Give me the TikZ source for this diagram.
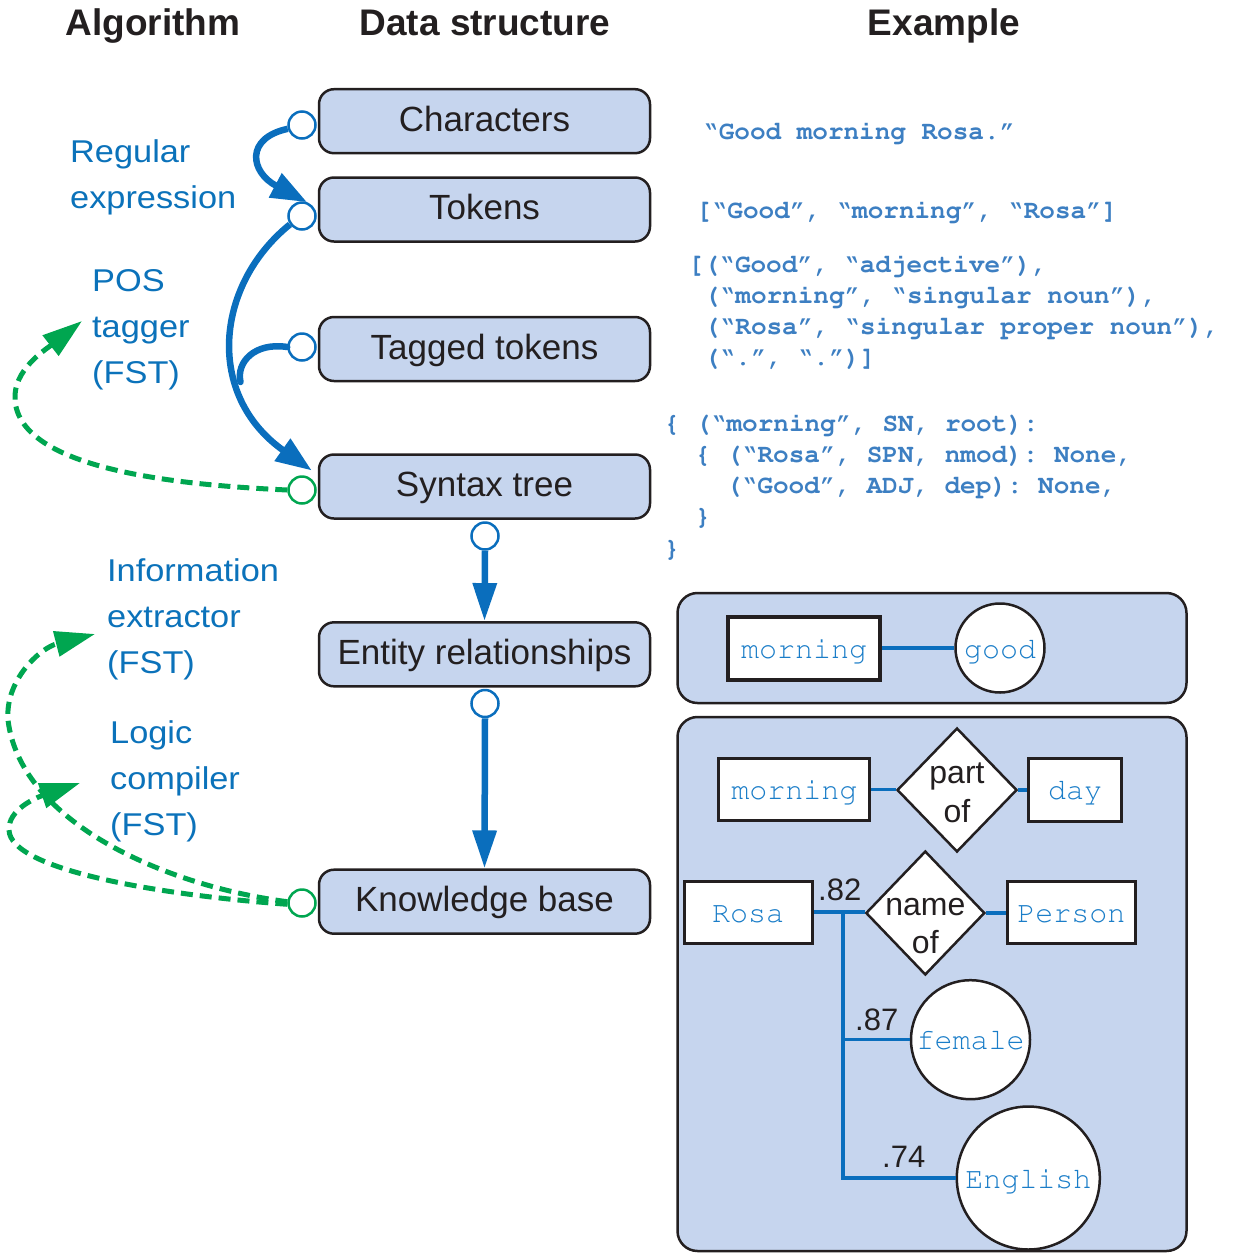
\documentclass[tikz,border=0pt]{standalone}
\usepackage[T1,TU]{fontenc}
\usepackage{fontspec}
\setmainfont{Liberation Sans}
\newfontfamily\lblfont[FakeStretch=1.09]{Liberation Sans}
\newcommand\courfont{\fontencoding{T1}\fontfamily{pcr}\selectfont\frenchspacing}
\newcommand\qo{\textquotedblleft}
\newcommand\qc{\textquotedblright}
\usetikzlibrary{arrows.meta,shapes.geometric}
\definecolor{boxfill}{HTML}{C6D5EE}
\definecolor{darkline}{HTML}{231F20}
\definecolor{flowblue}{HTML}{0A6EBD}
\definecolor{flowgreen}{HTML}{00A650}
\definecolor{lblblue}{HTML}{0B72BA}
\definecolor{codeblue}{HTML}{3D7FC2}
\definecolor{monoblue}{HTML}{1A7DC8}
\begin{document}
\begin{tikzpicture}[x=1pt,y=-1pt,
  dsbox/.style={draw=darkline, line width=2.5pt, fill=boxfill, rounded corners=15pt,
    minimum width=331pt, minimum height=64pt, inner sep=0pt,
    font=\fontsize{35}{42}\selectfont, text=darkline, text height=25pt, text depth=5pt},
  port/.style={circle, draw=flowblue, fill=white, line width=2.5pt, minimum size=27pt, inner sep=0pt},
  gport/.style={port, draw=flowgreen},
  header/.style={font=\fontsize{37}{44}\selectfont\bfseries, text=darkline, anchor=base, inner sep=0pt},
  lbl/.style={font=\lblfont\fontsize{31.5}{40}\selectfont, text=lblblue, anchor=base west, inner sep=0pt},
  code/.style={font=\courfont\bfseries\fontsize{26}{31}\selectfont, text=codeblue, anchor=base west, inner sep=0pt},
  flow/.style={draw=flowblue, line width=6.5pt, -{Triangle[length=36pt,width=26pt]}},
  vflow/.style={draw=flowblue, line width=6.5pt, -{Triangle[length=38pt,width=23pt]}},
  gflow/.style={draw=flowgreen, line width=5pt, dash pattern=on 12pt off 7pt, -{Triangle[length=40pt,width=25pt]}},
  panel/.style={draw=darkline, line width=2.5pt, fill=boxfill, rounded corners=20pt, inner sep=0pt},
  ent/.style={draw=darkline, line width=3pt, fill=white, inner sep=0pt,
    font=\courfont\fontsize{30}{36}\selectfont, text=monoblue, text height=20pt, text depth=0pt},
  entc/.style={ent, circle, line width=2.5pt},
  rel/.style={diamond, draw=darkline, line width=2.5pt, fill=white, inner sep=0pt},
  reltext/.style={font=\fontsize{32}{38}\selectfont, text=darkline, anchor=base, inner sep=0pt},
  wtext/.style={font=\fontsize{31}{38}\selectfont, text=darkline, anchor=base west, inner sep=0pt},
  link/.style={draw=flowblue, line width=3.5pt}
]
\useasboundingbox (0,0) rectangle (1236,1254);

% headers
\node[header] (hAlg) at (153,35) {Algorithm};
\node[header] (hDS) at (485,35) {Data structure};
\node[header] (hEx) at (944,35) {Example};

% data structure boxes
\node[dsbox] (nChar) at (484.5,121.2) {Characters};
\node[dsbox] (nTok) at (484.5,209.5) {Tokens};
\node[dsbox] (nTag) at (484.5,349) {Tagged tokens};
\node[dsbox] (nSyn) at (484.5,486.5) {Syntax tree};
\node[dsbox] (nEnt) at (484.5,654.3) {Entity relationships};
\node[dsbox] (nKB) at (484.5,901.7) {Knowledge base};

% ports
\node[port] (cChar) at (302,125) {};
\node[port] (cTok) at (302,216) {};
\node[port] (cTag) at (302,347) {};
\node[gport] (cSyn) at (302,490) {};
\node[gport] (cKB) at (302,903) {};
\node[port] (cSynB) at (485,536) {};
\node[port] (cEntB) at (485,703.5) {};

% algorithm labels
\node[lbl] (lRE1) at (70,162) {Regular};
\node[lbl] (lRE2) at (70,208) {expression};
\node[lbl] (lPOS1) at (92,291) {POS};
\node[lbl] (lPOS2) at (92,337) {tagger};
\node[lbl] (lPOS3) at (92,383) {(FST)};
\node[lbl] (lIE1) at (107,581) {Information};
\node[lbl] (lIE2) at (107,627) {extractor};
\node[lbl] (lIE3) at (107,673) {(FST)};
\node[lbl] (lLC1) at (110,743) {Logic};
\node[lbl] (lLC2) at (110,789) {compiler};
\node[lbl] (lLC3) at (110,835) {(FST)};

% free ends
\coordinate (merge) at (240.5,382);
\coordinate (pPOS) at (82,321);
\coordinate (pIE) at (95,634);
\coordinate (pLC) at (80,783);

% blue flows
\draw[flow] (cChar.195) .. controls (245,138) and (250,172) .. (cTok.70);
\draw[flow] (cTok.215) .. controls (215,285) and (205,395) .. ([xshift=-6pt,yshift=16pt]nSyn.west);
\draw[draw=flowblue, line width=6.5pt, line cap=round] (cTag.180) .. controls (255,342) and (236,362) .. (merge);
\draw[vflow] (cSynB.south) -- (nEnt.north);
\draw[vflow] (cEntB.south) -- (nKB.north);

% green flows
\draw[gflow] (cSyn.180) .. controls (180,485) and (20,470) .. (15,400) .. controls (13,370) and (45,350) .. (pPOS);
\draw[gflow] (cKB.175) .. controls (160,885) and (20,820) .. (8,720) .. controls (5,680) and (40,648) .. (pIE);
\draw[gflow] (cKB.185) .. controls (160,895) and (10,870) .. (9,830) .. controls (8,810) and (35,798) .. (pLC);

% example code
\node[code] (x1) at (703,139) {\qo Good morning Rosa.\qc};
\node[code] (x2) at (696,218) {[\qo Good\qc, \qo morning\qc, \qo Rosa\qc]};
\node[code] (x3) at (688,272) {[(\qo Good\qc, \qo adjective\qc),};
\node[code] (x4) at (704,303) {(\qo morning\qc, \qo singular noun\qc),};
\node[code] (x5) at (704,334) {(\qo Rosa\qc, \qo singular proper noun\qc),};
\node[code] (x6) at (704,365) {(\qo.\qc, \qo.\qc)]};
\node[code] (x7) at (664,431) {\{ (\qo morning\qc, SN, root):};
\node[code] (x8) at (695,462) {\{ (\qo Rosa\qc, SPN, nmod): None,};
\node[code] (x9) at (726,493) {(\qo Good\qc, ADJ, dep): None,};
\node[code] (x10) at (695,524) {\}};
\node[code] (x11) at (664,556) {\}};

% example panels
\node[panel, minimum width=509pt, minimum height=110pt] (pER) at (932,648) {};
\node[panel, minimum width=509pt, minimum height=534pt] (pKB) at (932,984) {};

% entity relationships example
\node[ent, line width=4pt, minimum width=152pt, minimum height=63pt] (eM1) at (804,648) {morning};
\node[entc, minimum size=89pt] (eGood) at (1000,648) {good};
\draw[link] (eM1.east) -- (eGood.west);

% knowledge base example
\node[ent, minimum width=151pt, minimum height=62pt] (eM2) at (794.4,789.5) {morning};
\node[rel, minimum width=120pt, minimum height=124pt] (dPart) at (957,790) {};
\node[reltext] (tPart1) at (957,783) {part};
\node[reltext] (tPart2) at (957,822) {of};
\node[ent, minimum width=93pt, minimum height=63pt] (eDay) at (1075.2,789.5) {day};
\draw[link] (eM2.east) -- (eM2.east -| dPart.west);
\draw[link] (dPart.east) -- (dPart.east -| eDay.west);

\node[ent, minimum width=128pt, minimum height=62pt] (eRosa) at (748,912) {Rosa};
\node[rel, minimum width=119pt, minimum height=124pt] (dName) at (925.3,913) {};
\node[reltext] (tName1) at (925.3,915) {name};
\node[reltext] (tName2) at (925.3,953) {of};
\node[ent, minimum width=128pt, minimum height=62pt] (ePerson) at (1071.3,912) {Person};
\node[entc, minimum size=119pt] (eFemale) at (970.5,1039.7) {female};
\node[entc, minimum size=143pt] (eEnglish) at (1028.3,1178) {English};
\coordinate (jct) at (843,912);
\draw[link] (eRosa.east) -- (eRosa.east -| dName.west);
\draw[link] (dName.east) -- (dName.east -| ePerson.west);
\draw[link] (jct) |- (eFemale.west);
\draw[link] (jct) |- (eEnglish.west);
\node[wtext] (w82) at (818,900) {.82};
\node[wtext] (w87) at (855,1030) {.87};
\node[wtext] (w74) at (882,1167) {.74};
\end{tikzpicture}
\end{document}
